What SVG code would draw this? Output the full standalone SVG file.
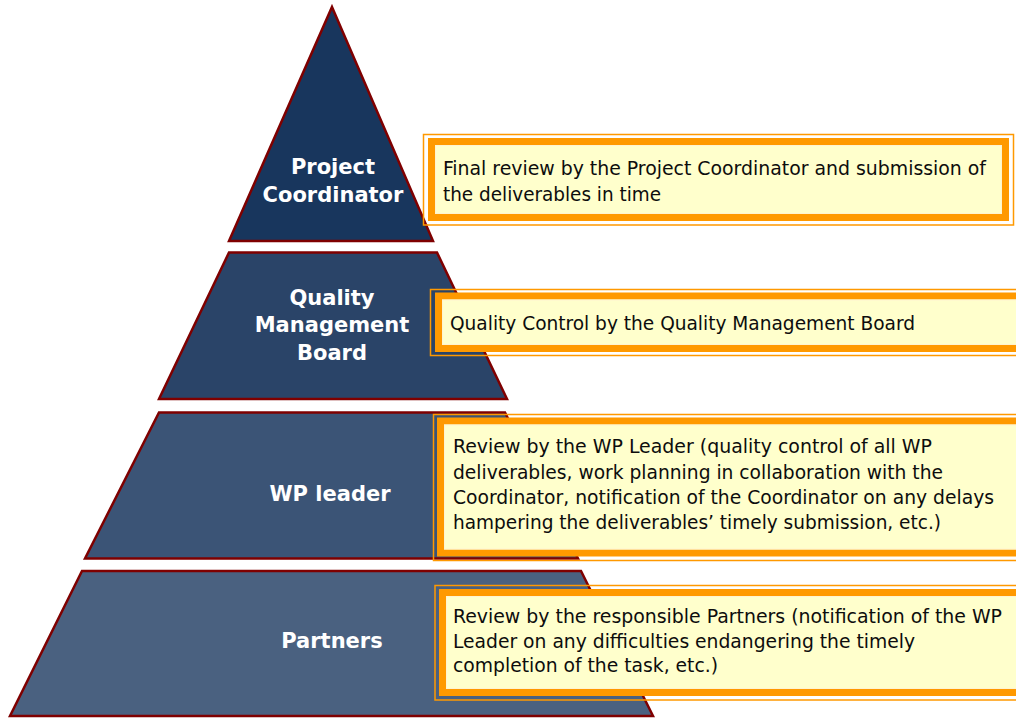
<svg xmlns="http://www.w3.org/2000/svg" width="1016" height="718" viewBox="0 0 1016 718">
  <style>
    .tier { stroke: #7f0000; stroke-width: 2.5; stroke-linejoin: miter; }
    .label { font-family: "DejaVu Sans", "Liberation Sans", sans-serif; font-weight: bold; font-size: 21px; fill: #ffffff; text-anchor: middle; }
    .frame { fill: none; stroke: #ff9900; stroke-width: 1.5; }
    .panel { fill: #ffffcc; stroke: #ff9900; stroke-width: 7; }
    .edge { fill: none; stroke: #fff3d0; stroke-width: 1; }
    .note { font-family: "DejaVu Sans Condensed", "DejaVu Sans", "Liberation Sans", sans-serif; font-stretch: condensed; font-size: 19px; fill: #0d0d0d; }
  </style>

  <!-- Pyramid tiers -->
  <g id="tier-coordinator">
    <polygon class="tier" fill="#18365d" points="332,7 433,241 229,241"/>
    <text class="label" x="333" y="174">Project</text>
    <text class="label" x="333" y="202">Coordinator</text>
  </g>
  <g id="tier-qmb">
    <polygon class="tier" fill="#2a4468" points="229,252.5 437,252.5 507,399 159,399"/>
    <text class="label" x="332" y="305">Quality</text>
    <text class="label" x="332" y="332">Management</text>
    <text class="label" x="332" y="360">Board</text>
  </g>
  <g id="tier-wp">
    <polygon class="tier" fill="#3b5476" points="159,412.5 505,412.5 578,558.5 85,558.5"/>
    <text class="label" x="330" y="501">WP leader</text>
  </g>
  <g id="tier-partners">
    <polygon class="tier" fill="#4a6180" points="82,571 581,571 653,716 10,716"/>
    <text class="label" x="332" y="648">Partners</text>
  </g>

  <!-- Description panels -->
  <g id="note-coordinator">
    <rect class="frame" x="423.5" y="134.5" width="590" height="90.5"/>
    <rect class="panel" x="431.5" y="141.5" width="574" height="76"/>
    <rect class="edge" x="435.5" y="145.5" width="566" height="68"/>
    <text class="note" x="443" y="175" textLength="543" lengthAdjust="spacingAndGlyphs">Final review by the Project Coordinator and submission of</text>
    <text class="note" x="443" y="200.5" textLength="218" lengthAdjust="spacingAndGlyphs">the deliverables in time</text>
  </g>
  <g id="note-qmb">
    <rect class="frame" x="430.5" y="289.5" width="620" height="66"/>
    <rect class="panel" x="438.5" y="296" width="620" height="52.5"/>
    <rect class="edge" x="442.5" y="300" width="620" height="44.5"/>
    <text class="note" x="450" y="330" textLength="465" lengthAdjust="spacingAndGlyphs">Quality Control by the Quality Management Board</text>
  </g>
  <g id="note-wp">
    <rect class="frame" x="433.5" y="414.5" width="620" height="146"/>
    <rect class="panel" x="440.5" y="421" width="620" height="132"/>
    <rect class="edge" x="444.5" y="425" width="620" height="124"/>
    <text class="note" x="453" y="453" textLength="479" lengthAdjust="spacingAndGlyphs">Review by the WP Leader (quality control of all WP</text>
    <text class="note" x="453" y="478.5" textLength="490" lengthAdjust="spacingAndGlyphs">deliverables, work planning in collaboration with the</text>
    <text class="note" x="453" y="504" textLength="541" lengthAdjust="spacingAndGlyphs">Coordinator, notification of the Coordinator on any delays</text>
    <text class="note" x="453" y="529" textLength="488" lengthAdjust="spacingAndGlyphs">hampering the deliverables’ timely submission, etc.)</text>
  </g>
  <g id="note-partners">
    <rect class="frame" x="435" y="585.5" width="620" height="114.5"/>
    <rect class="panel" x="442.5" y="592.5" width="620" height="100"/>
    <rect class="edge" x="446.5" y="596.5" width="620" height="92"/>
    <text class="note" x="453" y="623" textLength="549" lengthAdjust="spacingAndGlyphs">Review by the responsible Partners (notification of the WP</text>
    <text class="note" x="453" y="647.5" textLength="462" lengthAdjust="spacingAndGlyphs">Leader on any difficulties endangering the timely</text>
    <text class="note" x="453" y="672" textLength="265" lengthAdjust="spacingAndGlyphs">completion of the task, etc.)</text>
  </g>

  <!-- No connectors in this figure -->
  <g id="connectors"/>
</svg>
